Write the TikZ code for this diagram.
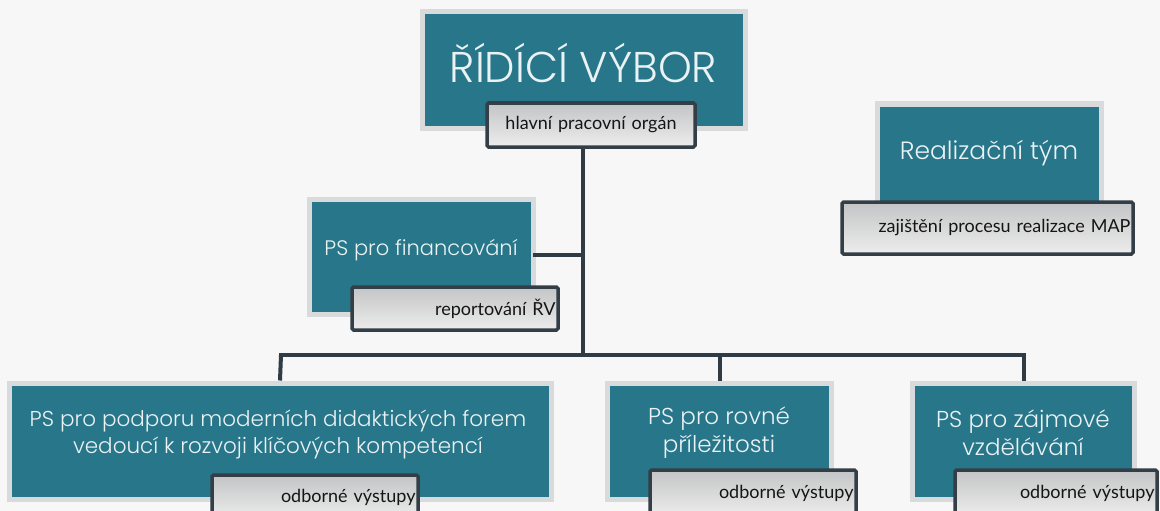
\documentclass[tikz,border=0pt]{standalone}
\usepackage{fontspec}
\setmainfont{Poppins}
\newfontfamily\lightfont{Poppins Light}
\newfontfamily\lblfont{Lato}
\definecolor{tealbox}{HTML}{28768A}
\definecolor{boxedge}{HTML}{D9DADB}
\definecolor{boxtext}{HTML}{EAF2F4}
\definecolor{lbledge}{HTML}{333E47}
\definecolor{lbltop}{HTML}{C3C4C5}
\definecolor{lblbot}{HTML}{EDEDED}
\definecolor{lbltext}{HTML}{151515}
\definecolor{conncol}{HTML}{2F3B45}
\definecolor{paper}{HTML}{F7F7F7}
\tikzset{
  tbox/.style={fill=tealbox,draw=boxedge,line width=5pt,inner sep=0pt},
  lbl/.style={draw=lbledge,line width=3.5pt,top color=lbltop,bottom color=lblbot,
    inner sep=0pt,rounded corners=1.5pt,align=right,text=lbltext,
    font=\lblfont\fontsize{18}{21}\selectfont},
  ttext/.style={text=boxtext,align=center,inner sep=0pt},
  conn/.style={draw=conncol,line width=4pt}
}
\begin{document}
\begin{tikzpicture}[x=1pt,y=-1pt]
\useasboundingbox (0,0) rectangle (1160,511);
\clip (0,0) rectangle (1160,511);
\fill[paper] (0,0) rectangle (1160,511);

\coordinate (trunkTop) at (583,140);
\coordinate (trunkBot) at (583,355);
\coordinate (busL) at (281,355);
\coordinate (busM) at (720,355);
\coordinate (busR) at (1024,355);
\coordinate (finJoin) at (583,255);

% top box
\node[tbox,minimum width=323pt,minimum height=116pt] (rv) at (583.5,70) {};
\node[ttext,font=\lightfont\fontsize{43}{50}\selectfont] (rvtext) at (583.5,63) {ŘÍDÍCÍ VÝBOR};

% financing box
\node[tbox,minimum width=224pt,minimum height=115pt] (fin) at (421,256.5) {};
\node[ttext,font=\lightfont\fontsize{21}{26}\selectfont] (fintext) at (421,250) {PS pro financování};

% realization team
\node[tbox,minimum width=224pt,minimum height=100pt] (rt) at (989,154) {};
\node[ttext,font=\lightfont\fontsize{25}{30}\selectfont] (rttext) at (989,153) {Realizační tým};

% bottom boxes
\node[tbox,minimum width=542pt,minimum height=116pt] (ps1) at (280,441) {};
\node[ttext,font=\lightfont\fontsize{21.5}{27}\selectfont] (ps1text) at (278,434) {PS pro podporu moderních didaktických forem\\vedoucí k rozvoji klíčových kompetencí};
\node[tbox,minimum width=224pt,minimum height=116pt] (ps2) at (719,441) {};
\node[ttext,font=\lightfont\fontsize{23}{28}\selectfont] (ps2text) at (719,433) {PS pro rovné\\příležitosti};
\node[tbox,minimum width=222pt,minimum height=116pt] (ps3) at (1023,441) {};
\node[ttext,font=\lightfont\fontsize{23}{28}\selectfont] (ps3text) at (1023,433) {PS pro zájmové\\vzdělávání};

% connectors
\draw[conn] (trunkTop) -- (trunkBot);
\draw[conn] (fin.east) ++(-2.5,-1.5) coordinate (finE) -- (finJoin);
\draw[conn,line cap=rect] (busL) -- (busR);
\draw[conn] (busL) -- (ps1.north);
\draw[conn] (busM) -- (ps2.north -| busM);
\draw[conn] (busR) -- (ps3.north -| busR);

% labels
\node[lbl,align=center,text width=200pt,minimum width=208pt,minimum height=44pt] (l1) at (591,125) {hlavní pracovní orgán};
\node[lbl,text width=201pt,minimum width=206pt,minimum height=43pt] (l2) at (455,308.5) {reportování ŘV};
\node[lbl,text width=286pt,minimum width=291pt,minimum height=52pt] (l3) at (987.5,228) {zajištění procesu realizace MAP};
\node[lbl,text width=201pt,minimum width=206pt,minimum height=44pt] (l4) at (315,497) {odborné výstupy};
\node[lbl,text width=201pt,minimum width=206pt,minimum height=46pt] (l5) at (753,493) {odborné výstupy};
\node[lbl,text width=197pt,minimum width=202pt,minimum height=46pt] (l6) at (1056,493) {odborné výstupy};
\end{tikzpicture}
\end{document}
